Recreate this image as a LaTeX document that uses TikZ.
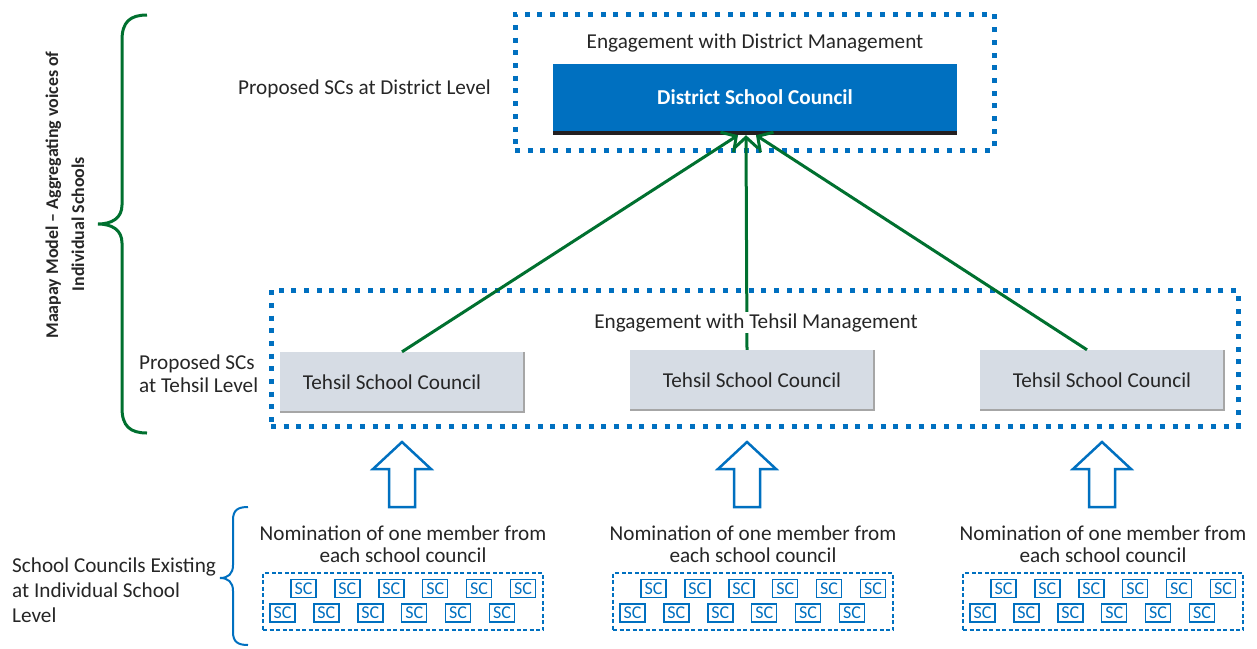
\documentclass[tikz,border=0pt]{standalone}
\usepackage{fontspec}
\setmainfont{Carlito}
\usetikzlibrary{arrows.meta}
\definecolor{mblue}{HTML}{0070C0}
\definecolor{mgreen}{HTML}{00702F}
\definecolor{ink}{HTML}{262626}
\definecolor{tfill}{HTML}{D6DCE4}
\definecolor{tedge}{HTML}{A6A6A6}
\definecolor{barcol}{HTML}{231F20}
\begin{document}
\begin{tikzpicture}[x=1pt, y=-1pt, text=ink,
  font=\fontsize{21.2}{25}\selectfont,
  dotframe/.style={draw=mblue, line width=5pt, dash pattern=on 5pt off 7.7pt,
    inner sep=0pt},
  dashframe/.style={draw=mblue, line width=1.8pt, dash pattern=on 4pt off 2.5pt,
    inner sep=0pt},
  tehsilbox/.style={fill=tfill, minimum width=244pt, minimum height=60pt,
    inner sep=0pt},
  scbox/.style={draw=mblue, line width=1.5pt, fill=white, minimum width=25pt,
    minimum height=18pt, inner sep=0pt, text=mblue,
    font=\fontsize{18}{18}\selectfont},
  uplink/.style={draw=mgreen, line width=3pt,
    -{Straight Barb[length=11pt, width=24pt]}},
  blockarrow/.style={draw=mblue, line width=2.5pt, line join=miter, fill=white},
  bracegreen/.style={draw=mgreen, line width=3pt},
  braceblue/.style={draw=mblue, line width=2pt},
  sidebold/.style={rotate=90, anchor=base, inner sep=0pt,
    font=\fontsize{17.9}{22}\selectfont\bfseries}]

\useasboundingbox (0,0) rectangle (1257,648);

% ---- district level ----
\node[dotframe, minimum width=479pt, minimum height=136pt] (distframe) at (754.5,82) {};
\node[anchor=base] (distlabel) at (755,48) {Engagement with District Management};
\node[fill=mblue, minimum width=404pt, minimum height=67pt, inner sep=0pt,
      text=white, font=\fontsize{21.2}{25}\selectfont\bfseries] (dist) at (755,97.5)
      {District School Council};
\fill[barcol] (dist.south west) rectangle ([yshift=-4pt]dist.south east);
\node[anchor=base west, inner sep=0pt] (distside) at (238,94) {Proposed SCs at District Level};

% ---- tehsil level ----
\node[dotframe, minimum width=967pt, minimum height=136pt] (tehframe) at (754.5,358) {};
\node[tehsilbox] (t1) at (402,382) {\hspace*{-20pt}Tehsil School Council};
\node[tehsilbox] (t2) at (752,380) {Tehsil School Council};
\node[tehsilbox] (t3) at (1102,380) {Tehsil School Council};
\foreach \t in {t1,t2,t3}
  \draw[tedge, line width=1.5pt] (\t.north east) -- (\t.south east) -- (\t.south west);
\node[anchor=west, align=left, inner sep=0pt, font=\fontsize{21.2}{23}\selectfont]
  (tehside) at (139,374) {Proposed SCs\\at Tehsil Level};

% ---- connectors to the district council ----
\draw[uplink] (t1.north) -- ([xshift=-17pt, yshift=-4pt]dist.south);
\draw[uplink] ([xshift=-5pt]t2.north) -- ([xshift=-9pt, yshift=-4pt]dist.south);
\draw[uplink] ([xshift=-15pt]t3.north) -- ([xshift=1pt, yshift=-4pt]dist.south);
\node[anchor=base, fill=white, inner xsep=2pt, inner ysep=1pt] (tehlabel) at (756,328)
  {Engagement with Tehsil Management};

% ---- school level groups ----
\foreach \g/\dx/\ax in {1/0/402, 2/350/747, 3/700/1102} {
  \draw[blockarrow] (\ax,442) -- (\ax+29,469) -- (\ax+13,469) -- (\ax+13,507)
    -- (\ax-13,507) -- (\ax-13,469) -- (\ax-29,469) -- cycle;
  \node[align=center, font=\fontsize{21.2}{22}\selectfont] (nom\g) at (403+\dx,544)
    {Nomination of one member from\\each school council};
  \node[dashframe, minimum width=280pt, minimum height=57pt] (scf\g) at (403+\dx,601.5) {};
  \foreach \i in {0,...,5} {
    \node[scbox] (sc\g a\i) at (303.5+\dx+43.9*\i,588.5) {SC};
    \node[scbox] (sc\g b\i) at (282.5+\dx+43.9*\i,613) {SC};
  }
}

% ---- left-hand captions and braces ----
\draw[bracegreen] (147,15) .. controls (130,15) and (122,22) .. (122,40)
  -- (122,205) .. controls (122,218) and (112,224) .. (98,224)
  .. controls (112,224) and (122,230) .. (122,243)
  -- (122,408) .. controls (122,426) and (130,433) .. (147,433);
\node[sidebold] (model1) at (58,195) {Maapay Model -- Aggregating voices of};
\node[sidebold] (model2) at (84,224) {Individual Schools};

\draw[braceblue] (248,507) .. controls (238,507) and (233,510) .. (233,520)
  -- (233,565) .. controls (233,574) and (228,578) .. (220,578)
  .. controls (228,578) and (233,582) .. (233,591)
  -- (233,632) .. controls (233,642) and (238,645) .. (248,645);
\node[anchor=west, align=left, inner sep=0pt, font=\fontsize{21.2}{25}\selectfont]
  (schoolside) at (12,590) {School Councils Existing\\at Individual School\\Level};
\end{tikzpicture}
\end{document}
